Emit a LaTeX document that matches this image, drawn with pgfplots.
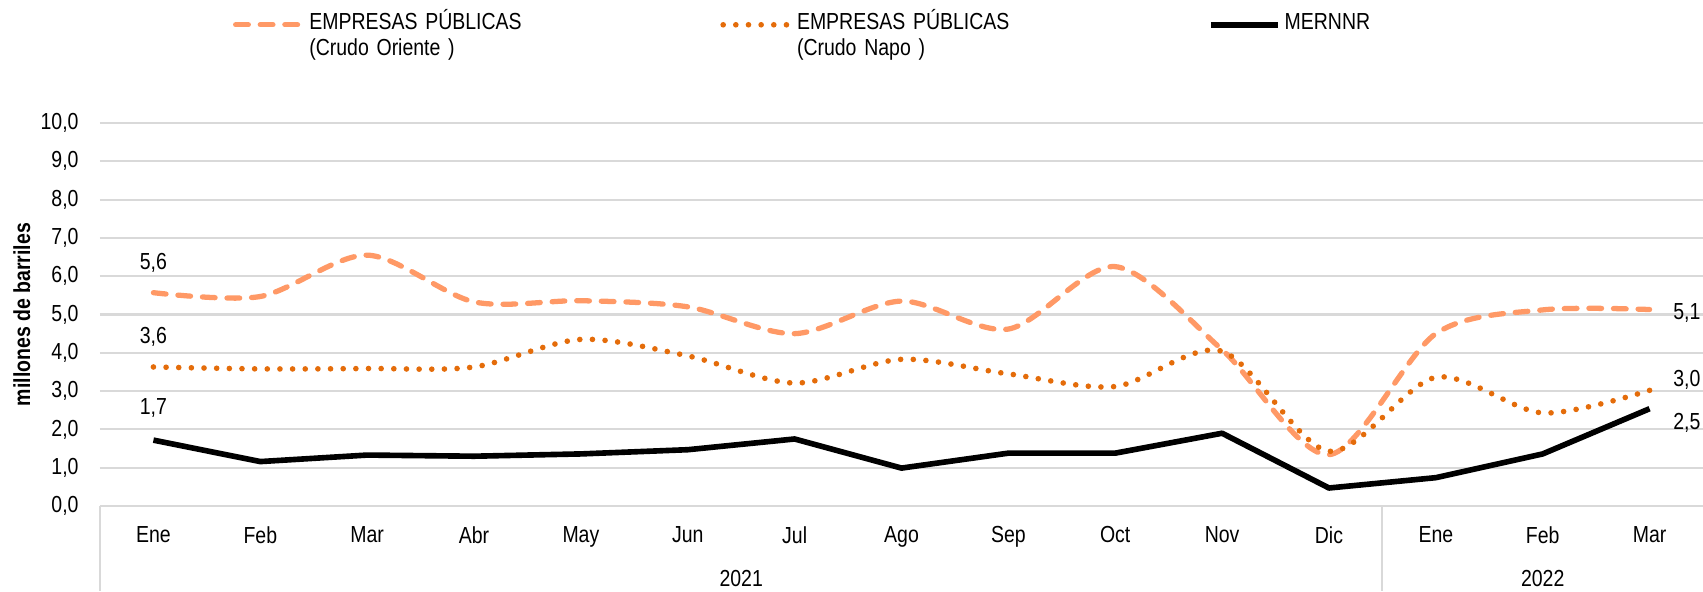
\documentclass[border=0pt]{standalone}
\usepackage{pgfplots}
\pgfplotsset{compat=1.18}
\usepackage{fontspec}
\setmainfont[FakeStretch=0.84]{Liberation Sans}

\definecolor{oriente}{RGB}{255,153,102}
\definecolor{napo}{RGB}{228,108,10}
\definecolor{gridgray}{RGB}{217,217,217}

\begin{document}
\fontsize{6.6pt}{7.4pt}\selectfont
\begin{tikzpicture}
\begin{axis}[
  at={(0,0)}, anchor=south west,
  scale only axis,
  width=16.03cm, height=3.83cm,
  xmin=-0.5, xmax=14.5,
  ymin=0, ymax=10,
  xtick={0,...,14},
  xticklabels={Ene,Feb,Mar,Abr,May,Jun,Jul,Ago,Sep,Oct,Nov,Dic,Ene,Feb,Mar},
  ytick={0,1,...,10},
  /pgf/number format/fixed,
  /pgf/number format/fixed zerofill,
  /pgf/number format/precision=1,
  /pgf/number format/use comma,
  /pgf/number format/assume math mode=true,
  yticklabel style={xshift=-0.13cm},
  xticklabel style={yshift=-0.12cm},
  ymajorgrids,
  major grid style={color=gridgray, line width=0.6pt},
  axis line style={draw=none},
  major tick length=0pt,
  clip=false,
  ylabel={\bfseries millones de barriles},
  every axis y label/.style={at={(axis description cs:-0.0487,0.5)}, rotate=90, anchor=center},
  legend columns=3,
  legend cell align=left,
  legend style={draw=none, fill=none, inner sep=0pt, outer sep=0pt,
    at={(axis description cs:0.083,1.314)}, anchor=north west,
    cells={anchor=base west, inner sep=0pt, text width=4.04cm},
    /tikz/every odd column/.style={column sep=-0.03cm}},
  legend image code/.code={\draw[#1] (0cm,0.22em) -- (0.67cm,0.22em);},
]
\addplot[oriente, line width=1.5pt, line cap=round, dash pattern=on 3.6pt off 3.4pt, smooth, tension=0.5]
  coordinates {(0,5.57) (1,5.47) (2,6.55) (3,5.33) (4,5.36) (5,5.2) (6,4.5) (7,5.35) (8,4.62) (9,6.25) (10,4.08) (11,1.34) (12,4.5) (13,5.12) (14,5.13)};
\addlegendentry{EMPRESAS PÚBLICAS\\(Crudo Oriente )}
\addplot[napo, line width=1.6pt, line cap=round, dash pattern=on 0pt off 3.6pt, smooth, tension=0.5]
  coordinates {(0,3.63) (1,3.58) (2,3.59) (3,3.63) (4,4.35) (5,3.92) (6,3.21) (7,3.83) (8,3.45) (9,3.12) (10,4.04) (11,1.43) (12,3.36) (13,2.43) (14,3.02)};
\addlegendentry{EMPRESAS PÚBLICAS\\(Crudo Napo )}
\addplot[black, line width=1.6pt, line join=round]
  coordinates {(0,1.72) (1,1.16) (2,1.33) (3,1.3) (4,1.36) (5,1.47) (6,1.75) (7,0.99) (8,1.38) (9,1.38) (10,1.9) (11,0.47) (12,0.74) (13,1.36) (14,2.54)};
\addlegendentry{MERNNR}

\draw[gridgray, line width=0.6pt] (axis cs:-0.5,0) -- ([yshift=-0.85cm]axis cs:-0.5,0);
\draw[gridgray, line width=0.6pt] (axis cs:11.5,0) -- ([yshift=-0.85cm]axis cs:11.5,0);
\node at ([yshift=-0.73cm]axis cs:5.5,0) {2021};
\node at ([yshift=-0.73cm]axis cs:13,0) {2022};

\node[inner sep=0pt] at ([yshift=0.30cm]axis cs:0,5.57) {5,6};
\node[inner sep=0pt] at ([yshift=0.30cm]axis cs:0,3.63) {3,6};
\node[inner sep=0pt] at ([yshift=0.32cm]axis cs:0,1.72) {1,7};
\node[inner sep=0pt, anchor=west] at ([xshift=0.23cm,yshift=-0.03cm]axis cs:14,5.13) {5,1};
\node[inner sep=0pt, anchor=west] at ([xshift=0.23cm,yshift=0.10cm]axis cs:14,3.02) {3,0};
\node[inner sep=0pt, anchor=west] at ([xshift=0.23cm,yshift=-0.14cm]axis cs:14,2.54) {2,5};
\end{axis}
\pgfresetboundingbox
\path[use as bounding box] (-1.00cm,-0.85cm) rectangle (16.03cm,5.06cm);
\end{tikzpicture}
\end{document}
